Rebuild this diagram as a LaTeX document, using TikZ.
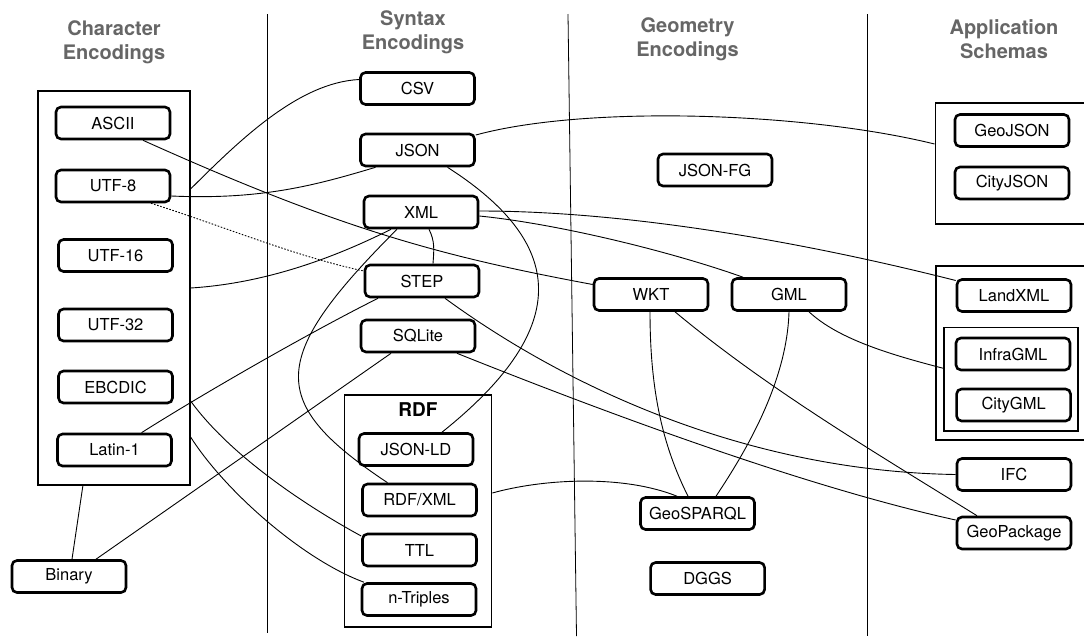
\documentclass[tikz,border=0pt]{standalone}
\usepackage{fontspec}
\setmainfont{TeX Gyre Heros}
\begin{document}
\begin{tikzpicture}[x=1pt,y=-1pt,
  enc/.style={draw, line width=2.6pt, rounded corners=5pt, fill=white,
    minimum width=114pt, minimum height=32pt, inner sep=0pt,
    font=\fontsize{16.5}{19}\selectfont},
  grp/.style={draw, line width=1.8pt, inner sep=0pt},
  hdr/.style={align=center, text=black!60, font=\fontsize{20}{24}\selectfont\bfseries},
  conn/.style={line width=0.9pt},
  sep/.style={line width=0.8pt}
]
\useasboundingbox (0,0) rectangle (1084,638);
\fill[white] (0,0) rectangle (1084,638);
\clip (0,0) rectangle (1084,638);

% column separators
\draw[sep] (267,14) -- (267,633);
\draw[sep] (568,14) -- (576.5,636);
\draw[sep] (867,14) -- (867,636);

% headers
\node[hdr] (hchar) at (114,42) {Character\\Encodings};
\node[hdr] (hsyn) at (413,32) {Syntax\\Encodings};
\node[hdr] (hgeo) at (687.5,39) {Geometry\\Encodings};
\node[hdr] (happ) at (1004,39) {Application\\Schemas};

% groups
\node[grp, minimum width=151.7pt, minimum height=394pt] (charbox) at (113.85,288) {};
\node[grp, minimum width=146.9pt, minimum height=232.2pt] (rdfbox) at (418,511) {};
\node[font=\fontsize{19}{22}\selectfont\bfseries] (rdflabel) at (418,410) {RDF};
\node[grp, anchor=west, minimum width=170pt, minimum height=121pt] (appA) at (934.5,163.5) {};
\node[grp, anchor=west, minimum width=170pt, minimum height=174pt] (appB) at (935,353) {};
\node[grp, minimum width=134pt, minimum height=103.5pt] (appC) at (1011,379.25) {};

% character encodings
\node[enc] (ascii) at (113,123) {ASCII};
\node[enc] (utf8) at (113,186) {UTF-8};
\node[enc] (utf16) at (115.5,255.5) {UTF-16};
\node[enc] (utf32) at (115.5,325) {UTF-32};
\node[enc] (ebcdic) at (115.5,387) {EBCDIC};
\node[enc] (latin) at (114.5,450) {Latin-1};
\node[enc] (binary) at (69,576.5) {Binary};

% syntax encodings
\node[enc] (csv) at (417.5,88.5) {CSV};
\node[enc] (json) at (417.5,150) {JSON};
\node[enc] (xml) at (421,212) {XML};
\node[enc] (step) at (422,281) {STEP};
\node[enc] (sqlite) at (418,336) {SQLite};
\node[enc] (jsonld) at (416,449.5) {JSON-LD};
\node[enc] (rdfxml) at (419.5,500) {RDF/XML};
\node[enc] (ttl) at (419.5,550) {TTL};
\node[enc] (ntriples) at (419,599.5) {n-Triples};

% geometry encodings
\node[enc] (jsonfg) at (715,170) {JSON-FG};
\node[enc] (wkt) at (651,294.5) {WKT};
\node[enc] (gml) at (789,294.5) {GML};
\node[enc] (geosparql) at (697.5,513.5) {GeoSPARQL};
\node[enc] (dggs) at (707.6,578.5) {DGGS};

% application schemas
\node[enc] (geojson) at (1012,130.5) {GeoJSON};
\node[enc] (cityjson) at (1012,183) {CityJSON};
\node[enc] (landxml) at (1014,295.5) {LandXML};
\node[enc] (infragml) at (1013,354) {InfraGML};
\node[enc] (citygml) at (1013.6,405) {CityGML};
\node[enc] (ifc) at (1014,474.5) {IFC};
\node[enc] (gpkg) at (1014,533) {GeoPackage};

% connectors
\draw[conn] ([xshift=30pt]ascii.south) .. controls +(200,90) and +(-150,-28) .. ([yshift=10pt]wkt.west);
\draw[conn] ([yshift=-10pt]utf8.east) .. controls +(90,4) and +(-60,18) .. ([xshift=-42pt]json.south);
\draw[conn] ([yshift=9pt]csv.west) .. controls +(-60,3) and +(50,-50) .. ([yshift=99pt]charbox.east);
\draw[conn, dash pattern=on 1.6pt off 1.6pt] ([xshift=38pt]utf8.south) .. controls +(70,22) and +(-70,-15) .. ([yshift=10pt]step.west);
\draw[conn] (charbox.east) .. controls +(80,-5) and +(-50,25) .. ([xshift=-30pt]xml.south);
\draw[conn] ([xshift=-24pt]xml.south) .. controls +(-130,130) and +(-120,-80) .. ([xshift=-32pt]rdfxml.north);
\draw[conn] ([xshift=8pt]xml.south) .. controls +(6,12) and +(1,-14) .. ([xshift=11pt]step.north);
\draw[conn] ([xshift=30pt]json.south) .. controls +(125,80) and +(125,-100) .. ([xshift=26pt]jsonld.north);
\draw[conn] ([xshift=27pt]latin.north) .. controls +(60,-38) and +(-70,35) .. ([xshift=-44pt]step.south);
\draw[conn] ([xshift=23pt]step.south) .. controls +(130,95) and +(-200,-3) .. (ifc.west);
\draw[conn] ([xshift=39pt]sqlite.south) .. controls +(150,60) and +(-150,-33) .. ([yshift=13pt]gpkg.west);
\draw[conn] ([xshift=-27pt]sqlite.south) -- ([xshift=27pt]binary.north);
\draw[conn] ([xshift=-31pt]charbox.south) -- ([xshift=3pt]binary.north);
\draw[conn] ([yshift=-113pt]charbox.east) .. controls +(40,55) and +(-55,-30) .. ([yshift=14pt]ttl.west);
\draw[conn] ([yshift=-149pt]charbox.east) .. controls +(35,55) and +(-60,-22) .. ([xshift=-55pt]ntriples.north);
\draw[conn] ([yshift=15pt]json.east) .. controls +(110,-30) and +(-130,-32) .. ([yshift=19.5pt]appA.west);
\draw[conn] ([yshift=1pt]xml.east) .. controls +(150,0) and +(-150,-38) .. ([yshift=15pt]landxml.west);
\draw[conn] ([yshift=-4pt]xml.east) .. controls +(80,8) and +(-70,-25) .. ([xshift=-46pt]gml.north);
\draw[conn] ([xshift=20pt]gml.south) .. controls +(30,28) and +(-50,-13) .. ([yshift=11pt]appC.west);
\draw[conn] ([xshift=-1pt]wkt.south) .. controls +(0,80) and +(-25,-50) .. ([xshift=-9.5pt]geosparql.north);
\draw[conn] (gml.south) .. controls +(-2,70) and +(30,-45) .. ([xshift=18.5pt]geosparql.north);
\draw[conn] ([xshift=24pt]wkt.south) .. controls +(90,75) and +(-110,-68) .. ([xshift=-37pt]gpkg.north);
\draw[conn] ([yshift=18pt]rdfbox.east) .. controls +(50,-14) and +(-55,-22) .. ([xshift=-20.5pt]geosparql.north);
\end{tikzpicture}
\end{document}
